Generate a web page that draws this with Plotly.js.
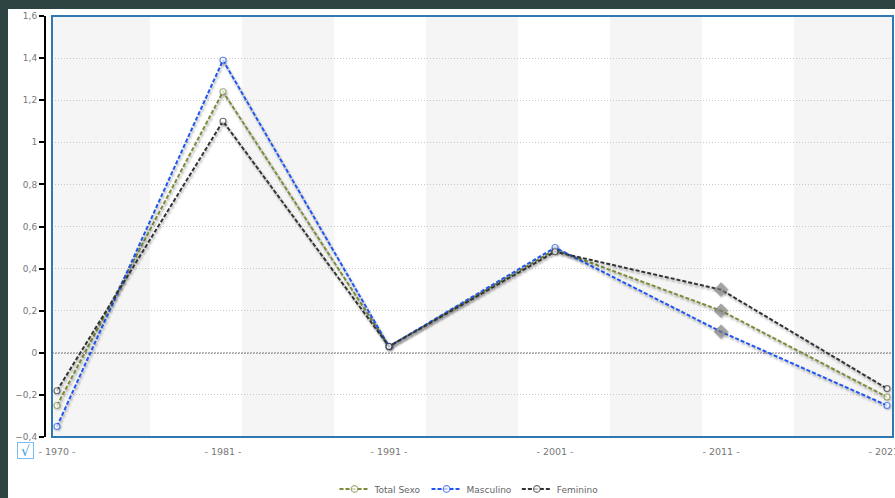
<!DOCTYPE html>
<html>
<head>
<meta charset="utf-8">
<script src="https://cdn.plot.ly/plotly-3.0.1.min.js"></script>
<style>
  html, body { margin: 0; padding: 0; background: #2e4443; width: 895px; height: 498px; overflow: hidden; }
  #chart { position: absolute; left: 8px; top: 9px; width: 887px; height: 489px; background: #fff; }
  .scatterlayer .js-line { filter: drop-shadow(1px 2px 1px rgba(0,0,0,0.35)); }
  .scatterlayer .points path { filter: drop-shadow(1px 1px 1px rgba(0,0,0,0.3)); }
</style>
</head>
<body>
<div id="chart"></div>
<script>
// ---- data ----
const years = ["1970", "1981", "1991", "2001", "2011", "2021"];
const tickLabels = ["- 1970 -", "- 1981 -", "- 1991 -", "- 2001 -", "- 2011 -", "- 2021 -"];
const totalSexo = [-0.25, 1.24, 0.03, 0.49, 0.20, -0.21];
const masculino = [-0.35, 1.39, 0.03, 0.50, 0.10, -0.25];
const feminino  = [-0.18, 1.10, 0.03, 0.48, 0.30, -0.17];
const seriesNames = ["Total Sexo", "Masculino", "Feminino"];
const yTicks = [-0.4, -0.2, 0, 0.2, 0.4, 0.6, 0.8, 1, 1.2, 1.4, 1.6];

// ---- style ----
const colors = ["#7a8c38", "#1f55f0", "#333333"];
const diamondIndex = years.indexOf("2011");

function makeTrace(name, vals, color) {
  const sym = years.map((_, i) => i === diamondIndex ? "diamond" : "circle");
  const fill = years.map((_, i) => i === diamondIndex ? "#7d7d7d" : "#ffffff");
  const lc = years.map((_, i) => i === diamondIndex ? "#7d7d7d" : color);
  const sz = years.map((_, i) => i === diamondIndex ? 10 : 6);
  return {
    type: "scatter", mode: "lines+markers", name: name,
    x: years, y: vals,
    line: { color: color, width: 2, dash: "4px,2px" },
    marker: { symbol: sym, color: fill, size: sz, line: { color: lc, width: 1.1 } },
    hoverinfo: "x+y+name"
  };
}

const traces = [
  makeTrace(seriesNames[0], totalSexo, colors[0]),
  makeTrace(seriesNames[1], masculino, colors[1]),
  makeTrace(seriesNames[2], feminino, colors[2])
];

// plot geometry (div coords): paper spans x 37..885, plot area starts 7px right of axis line
const domStart = 7 / 848;
const bandEdges = [0, 0.1165, 0.2259, 0.3353, 0.4447, 0.5541, 0.6635, 0.7729, 0.8823, 1];
const shapes = [];
for (let i = 0; i < bandEdges.length - 1; i += 2) {
  shapes.push({ type: "rect", xref: "x domain", yref: "paper", x0: bandEdges[i], x1: bandEdges[i + 1], y0: 0, y1: 1,
    fillcolor: "#f5f5f5", line: { width: 0 }, layer: "below" });
}
shapes.push({ type: "line", xref: "x domain", yref: "y", x0: 0, x1: 1, y0: 0, y1: 0,
  line: { color: "#333", width: 1.3, dash: "1.5px,1.5px" }, layer: "below" });
shapes.push({ type: "rect", xref: "x domain", yref: "paper", x0: 0, x1: 1, y0: 0, y1: 1,
  line: { color: "#2f78b2", width: 2 }, fillcolor: "rgba(0,0,0,0)", layer: "above" });

const layout = {
  width: 887, height: 489,
  margin: { l: 37, r: 2, t: 7, b: 61, autoexpand: false },
  paper_bgcolor: "#ffffff", plot_bgcolor: "#ffffff",
  separators: ",.",
  font: { family: "DejaVu Sans, Verdana, sans-serif", size: 9, color: "#777" },
  showlegend: true,
  legend: { orientation: "h", x: 0.5, xanchor: "center", yref: "container", y: 0.0184, yanchor: "middle",
    font: { size: 9, color: "#666" }, bgcolor: "rgba(0,0,0,0)" },
  xaxis: {
    type: "category", domain: [domStart, 1],
    range: [-0.03, 5.036],
    tickvals: years, ticktext: tickLabels,
    showgrid: false, zeroline: false, showline: false,
    ticks: "outside", ticklen: 6, tickcolor: "rgba(0,0,0,0)",
    tickfont: { size: 9.5, color: "#777" }, anchor: "y"
  },
  yaxis: {
    anchor: "free", position: 0,
    range: [-0.4, 1.6], tickvals: yTicks,
    showgrid: true, gridcolor: "#c8c8c8", griddash: "1px,2px", gridwidth: 1,
    zeroline: false, showline: true, linecolor: "#000", linewidth: 2,
    ticks: "outside", ticklen: 5, tickwidth: 2, tickcolor: "#000",
    tickfont: { size: 9, color: "#777" }, tickformat: ".1~f"
  },
  shapes: shapes,
  annotations: [{
    xref: "paper", yref: "paper", x: -0.023, y: -0.031, xanchor: "center", yanchor: "middle",
    text: "√", showarrow: false, font: { size: 14, color: "#3d9ae2" },
    bordercolor: "#7dbcea", borderwidth: 1, borderpad: 0, bgcolor: "#ffffff", width: 15, height: 15
  }]
};

Plotly.newPlot("chart", traces, layout, { displayModeBar: false, staticPlot: true });
</script>
</body>
</html>
